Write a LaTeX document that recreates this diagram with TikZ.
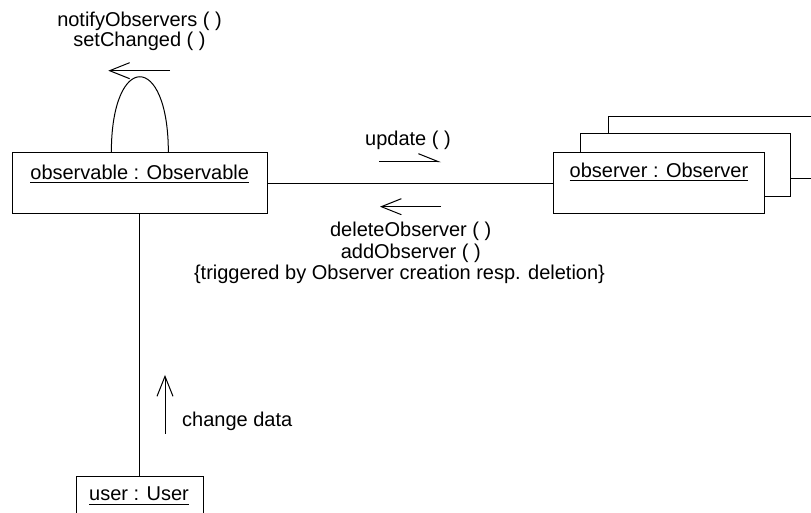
\documentclass[tikz,border=0pt]{standalone}
\usepackage{fontspec}
\setmainfont{Liberation Sans}
\usetikzlibrary{arrows.meta,calc}
\begin{document}
\begin{tikzpicture}[x=0.5pt,y=-0.5pt, line width=0.5pt,
  box/.style={draw,rectangle,inner sep=0pt,fill=white},
  lbl/.style={inner sep=0pt,anchor=base,font=\fontsize{10}{12}\selectfont},
  msg/.style={-{Straight Barb[length=10pt,width=8pt]}},
  halfmsg/.style={-{Straight Barb[left,length=10pt,width=8pt]}}]
\useasboundingbox (0,0) rectangle (811,513);
\clip (0,0) rectangle (811,513);
% boxes
\node[box,minimum width=127.2pt,minimum height=30.5pt] (obs) at (139.85,183.5) {};
\node[box,minimum width=105pt,minimum height=30.8pt] (obsv3) at (713,147.5) {};
\node[box,minimum width=105pt,minimum height=31.3pt] (obsv2) at (685.7,165.3) {};
\node[box,minimum width=105.5pt,minimum height=30.5pt] (obsv) at (658.5,183.5) {};
\node[box,minimum width=63.3pt,minimum height=30.5pt] (user) at (140,507.5) {};
% labels in boxes
\node[lbl] (obsl) at (139.7,179.5) {\underline{observable : Observable}};
\node[lbl] (obsvl) at (659,177.5) {\underline{observer : Observer}};
\node[lbl] (userl) at (139,501) {\underline{user : User}};
% links
\draw (obs.east) -- (obsv.west);
\draw (obs.south) -- (obs.south |- user.north);
\draw ($(obs.north)+(-28.5,0)$) .. controls ($(obs.north)+(-28.5,-101)$) and ($(obs.north)+(28.5,-101)$) .. ($(obs.north)+(28.5,0)$);
% message arrows
\coordinate (n1) at (170,70.7);
\coordinate (n2) at (108.3,70.7);
\draw[msg] (n1) -- (n2);
\coordinate (u1) at (379,161.7);
\coordinate (u2) at (441,161.7);
\draw[halfmsg] (u1) -- (u2);
\coordinate (d1) at (441,206.7);
\coordinate (d2) at (380,206.7);
\draw[msg] (d1) -- (d2);
\coordinate (c1) at (165,434);
\coordinate (c2) at (165,375);
\draw[msg] (c1) -- (c2);
% message labels
\node[lbl] (tn) at (139.5,26.5) {notifyObservers ( )};
\node[lbl] (ts) at (139.5,46.5) {setChanged ( )};
\node[lbl] (tu) at (408,146) {update ( )};
\node[lbl] (td) at (410.7,236.7) {deleteObserver ( )};
\node[lbl] (ta) at (410.8,258.3) {addObserver ( )};
\node[lbl] (tt) at (399.5,279.3) {\{triggered by Observer creation resp. deletion\}};
\node[lbl,anchor=base west] (tc) at (181.7,426.7) {change data};
\end{tikzpicture}
\end{document}
